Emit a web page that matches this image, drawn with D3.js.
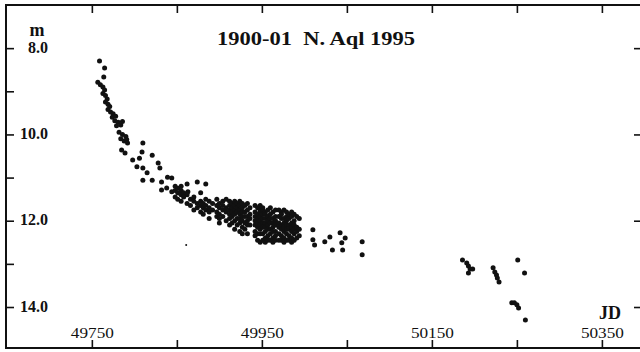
<!DOCTYPE html>
<html>
<head>
<meta charset="utf-8">
<script src="https://cdn.jsdelivr.net/npm/d3@7"></script>
<style>
  body { margin: 0; background: #fff; }
  svg { display: block; }
  text { font-family: "Liberation Serif", "DejaVu Serif", serif; fill: #111; }
</style>
</head>
<body>
<script>
// early decline, single estimates
const earlyJD = [49759, 49765, 49764, 49757, 49760, 49763, 49765, 49763, 49766, 49768, 49766, 49769, 49771, 49769, 49772,
  49775, 49774, 49778, 49777, 49781, 49784, 49779, 49786, 49782, 49786, 49790, 49784, 49788, 49791,
  49792, 49810, 49785, 49789, 49809, 49821, 49798, 49806, 49803, 49810, 49828, 49830, 49815, 49810, 49821,
  49832, 49839, 49844, 49832, 49838, 49844, 49853, 49863];
const earlyMag = [8.30, 8.46, 8.67, 8.79, 8.85, 8.90, 8.97, 9.05, 9.10, 9.18, 9.25, 9.30, 9.35, 9.42, 9.48,
  9.52, 9.60, 9.58, 9.68, 9.72, 9.78, 9.80, 9.70, 9.95, 10.00, 10.05, 10.10, 10.15, 10.12,
  10.20, 10.20, 10.36, 10.43, 10.41, 10.48, 10.59, 10.55, 10.75, 10.78, 10.66, 10.78, 10.89, 11.06, 11.06,
  11.10, 10.99, 11.01, 11.29, 11.24, 11.33, 11.36, 11.33];

// main season, several estimates per night
const nightJD = [49848, 49851, 49855, 49858, 49862, 49866, 49870, 49874, 49878, 49881, 49884, 49888, 49892, 49897,
  49900, 49904, 49908, 49912, 49915, 49918, 49921, 49924, 49927, 49930, 49933, 49936,
  49942, 49945, 49948, 49951, 49954, 49957, 49960, 49963, 49966,
  49970, 49973, 49976, 49979, 49982, 49985, 49988, 49991, 49994];
const nightMags = [
  [11.20, 11.30, 11.45], [11.25, 11.35, 11.50], [11.20, 11.30, 11.40, 11.55], [11.35, 11.45],
  [11.15, 11.40, 11.60], [11.50, 11.65], [11.45, 11.55, 11.75], [11.10, 11.60, 11.70],
  [11.35, 11.55, 11.65, 11.80], [11.60, 11.70, 11.85], [11.15, 11.50, 11.65, 11.75],
  [11.55, 11.70, 11.80, 11.95], [11.60, 11.75], [11.50, 11.65, 11.80, 11.90],
  [11.60, 11.70, 11.85, 11.95, 12.05], [11.55, 11.65, 11.75, 11.90], [11.50, 11.70, 11.80, 12.00],
  [11.55, 11.65, 11.75, 11.85, 11.95, 12.10], [11.60, 11.70, 11.80, 11.90, 12.05],
  [11.55, 11.65, 11.75, 11.85, 12.00, 12.20], [11.60, 11.70, 11.80, 11.95, 12.10],
  [11.55, 11.65, 11.75, 11.85, 11.95, 12.05, 12.25], [11.60, 11.70, 11.80, 11.90, 12.00, 12.15, 12.30],
  [11.65, 11.80, 11.90, 12.05, 12.20], [11.60, 11.75, 11.90, 12.00, 12.10, 12.30], [11.70, 11.85, 11.95, 12.10],
  [11.65, 11.80, 11.90, 12.00, 12.10, 12.25, 12.35], [11.70, 11.85, 11.95, 12.05, 12.15, 12.30, 12.45],
  [11.65, 11.75, 11.80, 11.90, 12.00, 12.10, 12.20, 12.30, 12.50], [11.70, 11.75, 11.85, 11.95, 12.05, 12.15, 12.30, 12.45],
  [11.80, 11.85, 11.95, 12.05, 12.15, 12.25, 12.40, 12.50], [11.75, 11.90, 12.00, 12.10, 12.20, 12.35, 12.45],
  [11.70, 11.85, 11.95, 12.05, 12.20, 12.30, 12.45], [11.80, 11.95, 12.05, 12.15, 12.25, 12.40, 12.50],
  [11.75, 11.90, 12.00, 12.10, 12.25, 12.35, 12.45],
  [11.75, 11.90, 12.05, 12.15, 12.30, 12.45], [11.80, 11.85, 11.95, 12.10, 12.20, 12.35, 12.45],
  [11.75, 11.95, 12.05, 12.15, 12.25, 12.40, 12.50], [11.80, 11.90, 12.00, 12.10, 12.20, 12.30, 12.45],
  [11.85, 11.95, 12.10, 12.20, 12.35, 12.45], [11.80, 11.90, 12.05, 12.15, 12.25, 12.40, 12.50],
  [11.85, 12.00, 12.10, 12.20, 12.30, 12.45], [11.90, 12.15, 12.25, 12.40], [11.95, 12.20, 12.35]
];

// tail of the season and the following season
const lateJD = [50010, 50010, 50012, 50024, 50030, 50033, 50042, 50044, 50048, 50045, 50068, 50068,
  50186, 50191, 50193, 50195, 50193, 50198, 50222, 50224, 50226, 50227, 50229, 50251, 50259,
  50244, 50247, 50250, 50252, 50260];
const lateMag = [12.21, 12.44, 12.56, 12.49, 12.38, 12.68, 12.28, 12.51, 12.40, 12.68, 12.49, 12.79,
  12.91, 12.98, 13.05, 13.12, 13.21, 13.12, 13.09, 13.19, 13.26, 13.33, 13.42, 12.91, 13.21,
  13.90, 13.90, 13.95, 14.02, 14.30];

// one faint isolated estimate
const faintJD = [49861];
const faintMag = [12.56];

const jdTicks = [49750, 49850, 49950, 50050, 50150, 50250, 50350];
const jdLabels = [49750, 49950, 50150, 50350];
const magTicks = [8, 9, 10, 11, 12, 13, 14];
const magLabels = [8, 10, 12, 14];
const title = "1900-01  N. Aql 1995";

var width = 640,
  height = 352,
  frameL = 6,
  frameT = 5,
  frameR = 641,
  frameB = 348;

var svg = d3.select("body").append("svg")
  .attr("width", width)
  .attr("height", height);

var x = d3.scaleLinear().domain([49649, 50396]).range([frameL, frameR]);
var y = d3.scaleLinear().domain([7.0, 14.95]).range([frameT, frameB]);

var points = [];
earlyJD.forEach((d, i) => points.push({ jd: d, mag: earlyMag[i] }));
nightJD.forEach((d, i) => nightMags[i].forEach((m) => points.push({ jd: d, mag: m })));
lateJD.forEach((d, i) => points.push({ jd: d, mag: lateMag[i] }));

// frame
svg.append("rect")
  .attr("x", frameL).attr("y", frameT)
  .attr("width", frameR - frameL).attr("height", frameB - frameT)
  .attr("fill", "none").attr("stroke", "#111").attr("stroke-width", 2);

var fmt = d3.format(".1f");

var gBottom = svg.append("g")
  .attr("transform", `translate(0,${frameB})`)
  .call(d3.axisTop(x).tickValues(jdTicks).tickSize(8).tickPadding(2)
    .tickFormat((d) => (jdLabels.includes(d) ? d : "")));

var gTop = svg.append("g")
  .attr("transform", `translate(0,${frameT})`)
  .call(d3.axisBottom(x).tickValues(jdTicks).tickSize(8).tickFormat(""));

var gLeft = svg.append("g")
  .attr("transform", `translate(${frameL},0)`)
  .call(d3.axisRight(y).tickValues(magTicks).tickSize(8)
    .tickFormat((d) => (magLabels.includes(d) ? fmt(d) : "")));

var gRight = svg.append("g")
  .attr("transform", `translate(${frameR},0)`)
  .call(d3.axisLeft(y).tickValues(magLabels).tickSize(7).tickFormat(""));

[gBottom, gTop, gLeft, gRight].forEach((g) => {
  g.select(".domain").remove();
  g.selectAll(".tick line").attr("stroke", "#111").attr("stroke-width", 1.6);
  g.attr("font-family", null).attr("font-size", null);
});

gBottom.selectAll("text")
  .style("font-size", "15px")
  .attr("textLength", (d) => (jdLabels.includes(d) ? 43 : null))
  .attr("lengthAdjust", "spacingAndGlyphs");

gLeft.selectAll("text")
  .attr("x", 48 - frameL)
  .attr("dy", "0.25em")
  .attr("text-anchor", "end")
  .style("font-size", "16px")
  .style("font-weight", "bold");

svg.selectAll(".dot")
  .data(points)
  .enter()
  .append("circle")
  .attr("class", "dot")
  .attr("cx", (d) => x(d.jd))
  .attr("cy", (d) => y(d.mag))
  .attr("r", 2.5)
  .attr("fill", "#111");

svg.selectAll(".faint")
  .data(faintJD)
  .enter()
  .append("circle")
  .attr("class", "faint")
  .attr("cx", (d) => x(d))
  .attr("cy", (d, i) => y(faintMag[i]))
  .attr("r", 1)
  .attr("fill", "#111");

svg.append("text")
  .text(title)
  .attr("x", 217)
  .attr("y", 45)
  .attr("textLength", 198)
  .attr("lengthAdjust", "spacingAndGlyphs")
  .style("font-size", "19px")
  .style("font-weight", "bold")
  .style("white-space", "pre");

svg.append("text")
  .text("m")
  .attr("x", 37)
  .attr("y", 36)
  .attr("text-anchor", "middle")
  .style("font-size", "18px")
  .style("font-weight", "bold");

svg.append("text")
  .text("JD")
  .attr("x", 610)
  .attr("y", 319)
  .attr("text-anchor", "middle")
  .style("font-size", "18px")
  .style("font-weight", "bold");
</script>
</body>
</html>
